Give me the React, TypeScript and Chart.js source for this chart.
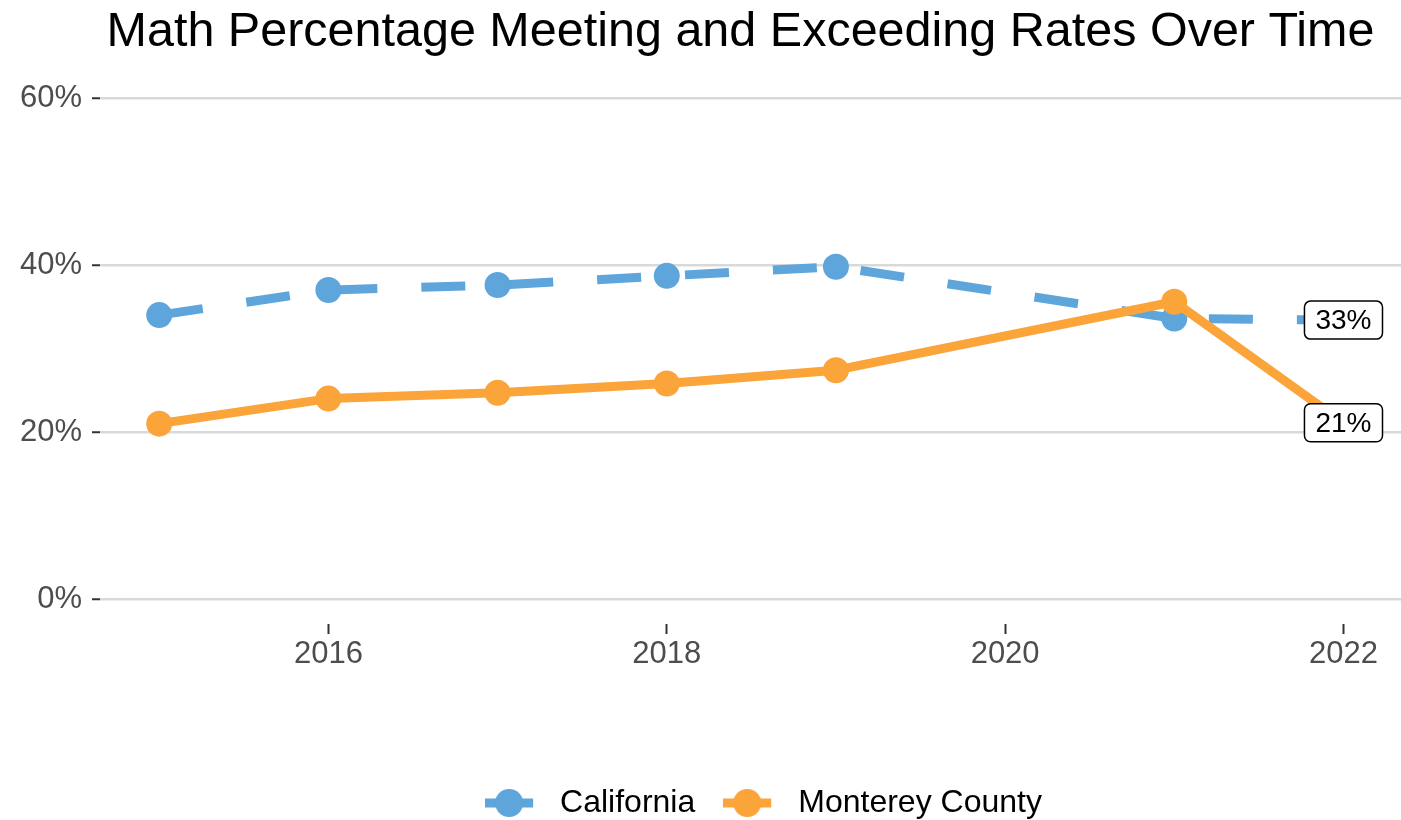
import React, { useEffect, useRef } from 'react';
import { Chart, registerables } from 'chart.js';

Chart.register(...registerables);

const titleText = 'Math Percentage Meeting and Exceeding Rates Over Time';
const years = [2015, 2016, 2017, 2018, 2019, 2021, 2022];
const californiaRates = [34.0, 37.0, 37.6, 38.7, 39.8, 33.6, 33.4];
const montereyRates = [21.0, 24.0, 24.7, 25.8, 27.4, 35.6, 21.1];
const seriesNames = ['California', 'Monterey County'];
const seriesColors = ['#5DA5DA', '#FAA43A'];
const xTickValues = [2016, 2018, 2020, 2022];
const yTickValues = [0, 20, 40, 60];

const FONT = '"Liberation Sans", Arial, Helvetica, sans-serif';
const TITLE_SHIFT_X = 40;
const LEGEND_SHIFT_X = 63;
const LEGEND_SHIFT_Y = 9;

function legendSymbol(color: string): HTMLCanvasElement {
  const c = document.createElement('canvas');
  c.width = 59;
  c.height = 30;
  const ctx = c.getContext('2d')!;
  ctx.fillStyle = color;
  ctx.fillRect(0, 10.5, 48, 9);
  ctx.beginPath();
  ctx.arc(24, 15, 14, 0, Math.PI * 2);
  ctx.fill();
  return c;
}

const endLabelPlugin = {
  id: 'endLabels',
  afterDatasetsDraw(chart: any) {
    const ctx = chart.ctx;
    ctx.save();
    ctx.font = `28px ${FONT}`;
    chart.data.datasets.forEach((ds: any, i: number) => {
      const meta = chart.getDatasetMeta(i);
      const last = meta.data.length - 1;
      const pt = meta.data[last];
      const value = ds.data[last].y;
      const text = Math.round(value) + '%';
      const tw = ctx.measureText(text).width;
      const w = tw + 22;
      const h = 38;
      ctx.beginPath();
      ctx.roundRect(pt.x - w / 2, pt.y - h / 2, w, h, 6);
      ctx.fillStyle = '#ffffff';
      ctx.fill();
      ctx.lineWidth = 1.5;
      ctx.strokeStyle = '#000000';
      ctx.stroke();
      ctx.fillStyle = '#000000';
      ctx.textAlign = 'center';
      ctx.textBaseline = 'middle';
      ctx.fillText(text, pt.x, pt.y + 1);
    });
    ctx.restore();
  },
};

const layoutShiftPlugin = {
  id: 'layoutShift',
  afterLayout(chart: any) {
    const t = chart.titleBlock;
    if (t) {
      t.left += TITLE_SHIFT_X;
      t.right += TITLE_SHIFT_X;
    }
    const l = chart.legend;
    if (l) {
      l.left += LEGEND_SHIFT_X;
      l.right += LEGEND_SHIFT_X;
      l.top += LEGEND_SHIFT_Y;
      l.bottom += LEGEND_SHIFT_Y;
    }
  },
};

export default function App() {
  const canvasRef = useRef<HTMLCanvasElement | null>(null);

  useEffect(() => {
    const canvas = canvasRef.current;
    if (!canvas) return;
    const symbols = seriesColors.map((c) => legendSymbol(c));
    const seriesValues = [californiaRates, montereyRates];

    const chart = new Chart(canvas, {
      type: 'line',
      data: {
        datasets: seriesNames.map((name, i) => ({
          label: name,
          data: years.map((x, j) => ({ x, y: seriesValues[i][j] })),
          borderColor: seriesColors[i],
          backgroundColor: seriesColors[i],
          borderWidth: 9,
          borderDash: i === 0 ? [44, 44] : [],
          borderJoinStyle: 'round',
          borderCapStyle: 'butt',
          pointRadius: 13,
          pointHoverRadius: 13,
          pointBorderWidth: 0,
          pointBackgroundColor: seriesColors[i],
          tension: 0,
          fill: false,
          clip: false,
          order: i === 0 ? 2 : 1,
        })),
      },
      options: {
        responsive: false,
        animation: false,
        events: [],
        layout: { padding: 0, autoPadding: false },
        plugins: {
          title: {
            display: true,
            text: titleText,
            color: '#000000',
            font: { family: FONT, size: 48.5, weight: 'normal', lineHeight: 1 },
            padding: { top: 8, bottom: 16.5 },
          },
          legend: {
            position: 'bottom',
            labels: {
              usePointStyle: true,
              pointStyleWidth: 59,
              padding: 28,
              color: '#000000',
              font: { family: FONT, size: 32 },
              generateLabels: () =>
                seriesNames.map((name, i) => ({
                  text: name,
                  pointStyle: symbols[i],
                  fillStyle: seriesColors[i],
                  strokeStyle: seriesColors[i],
                  lineWidth: 0,
                  hidden: false,
                  datasetIndex: i,
                  fontColor: '#000000',
                })),
            },
          },
          tooltip: { enabled: false },
        },
        scales: {
          x: {
            type: 'linear',
            min: 2014.65,
            max: 2022.34,
            afterBuildTicks: (s: any) => {
              s.ticks = xTickValues.map((v) => ({ value: v }));
            },
            afterFit: (s: any) => {
              s.height = 126;
            },
            grid: {
              display: true,
              drawOnChartArea: false,
              drawTicks: true,
              tickLength: 10,
              tickColor: '#333333',
              tickWidth: 2,
            },
            border: { display: false },
            ticks: {
              color: '#4D4D4D',
              font: { family: FONT, size: 31 },
              padding: 2,
              maxRotation: 0,
              autoSkip: false,
              callback: (v: any) => String(v),
            },
          },
          y: {
            type: 'linear',
            min: -3,
            max: 63,
            afterBuildTicks: (s: any) => {
              s.ticks = yTickValues.map((v) => ({ value: v }));
            },
            afterFit: (s: any) => {
              s.width = 100;
            },
            grid: {
              color: '#D9D9D9',
              lineWidth: 2.5,
              drawTicks: true,
              tickLength: 8,
              tickColor: '#333333',
              tickWidth: 2,
            },
            border: { display: false },
            ticks: {
              color: '#4D4D4D',
              font: { family: FONT, size: 31 },
              padding: 10,
              callback: (v: any) => v + '%',
            },
          },
        },
      },
      plugins: [endLabelPlugin, layoutShiftPlugin],
    } as any);

    return () => chart.destroy();
  }, []);

  return (
    <div style={{ position: 'fixed', left: 0, top: 0, width: 1401, height: 820, background: '#ffffff' }}>
      <canvas ref={canvasRef} width={1401} height={820} style={{ display: 'block' }} />
    </div>
  );
}
